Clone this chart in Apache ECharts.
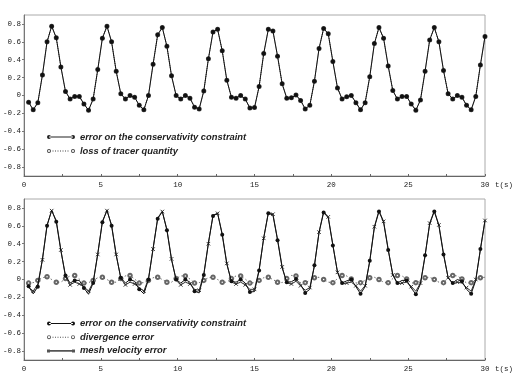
<!DOCTYPE html>
<html>
<head>
<meta charset="utf-8">
<script src="https://cdn.jsdelivr.net/npm/echarts@6/dist/echarts.min.js"></script>
<style>
  html, body { margin: 0; padding: 0; background: #fff; }
  #chart { width: 515px; height: 380px; }
</style>
</head>
<body>
<div id="chart"></div>
<script>
// sample times (s)
const timeS = [
  0.3, 0.6, 0.9, 1.2, 1.5, 1.8, 2.1, 2.4, 2.7, 3.0,
  3.3, 3.6, 3.9, 4.2, 4.5, 4.8, 5.1, 5.4, 5.7, 6.0,
  6.3, 6.6, 6.9, 7.2, 7.5, 7.8, 8.1, 8.4, 8.7, 9.0,
  9.3, 9.6, 9.9, 10.2, 10.5, 10.8, 11.1, 11.4, 11.7, 12.0,
  12.3, 12.6, 12.9, 13.2, 13.5, 13.8, 14.1, 14.4, 14.7, 15.0,
  15.3, 15.6, 15.9, 16.2, 16.5, 16.8, 17.1, 17.4, 17.7, 18.0,
  18.3, 18.6, 18.9, 19.2, 19.5, 19.8, 20.1, 20.4, 20.7, 21.0,
  21.3, 21.6, 21.9, 22.2, 22.5, 22.8, 23.1, 23.4, 23.7, 24.0,
  24.3, 24.6, 24.9, 25.2, 25.5, 25.8, 26.1, 26.4, 26.7, 27.0,
  27.3, 27.6, 27.9, 28.2, 28.5, 28.8, 29.1, 29.4, 29.7, 30.0
];

// error on the conservativity constraint
const consError = [
  -0.075, -0.16, -0.08, 0.23, 0.60, 0.775, 0.645, 0.32, 0.045, -0.04,
  -0.01, -0.01, -0.095, -0.165, -0.04, 0.29, 0.64, 0.775, 0.60, 0.27,
  0.02, -0.04, 0.0, -0.02, -0.11, -0.16, 0.0, 0.35, 0.68, 0.76,
  0.55, 0.22, 0.0, -0.04, 0.0, -0.03, -0.13, -0.15, 0.05, 0.41,
  0.71, 0.74, 0.50, 0.17, -0.02, -0.03, 0.0, -0.04, -0.14, -0.135,
  0.10, 0.47, 0.74, 0.72, 0.44, 0.13, -0.03, -0.025, 0.005, -0.055,
  -0.15, -0.11, 0.16, 0.525, 0.75, 0.69, 0.38, 0.085, -0.04, -0.015,
  0.0, -0.08, -0.16, -0.08, 0.21, 0.58, 0.76, 0.64, 0.33, 0.055,
  -0.04, -0.01, -0.01, -0.095, -0.165, -0.05, 0.27, 0.62, 0.76, 0.60,
  0.28, 0.02, -0.04, 0.0, -0.02, -0.11, -0.16, -0.01, 0.34, 0.66
];

// loss of tracer quantity (lies under the constraint error)
const tracerLoss = [
  -0.075, -0.16, -0.08, 0.23, 0.60, 0.775, 0.645, 0.32, 0.045, -0.04,
  -0.01, -0.01, -0.095, -0.165, -0.04, 0.29, 0.64, 0.775, 0.60, 0.27,
  0.02, -0.04, 0.0, -0.02, -0.11, -0.16, 0.0, 0.35, 0.68, 0.76,
  0.55, 0.22, 0.0, -0.04, 0.0, -0.03, -0.13, -0.15, 0.05, 0.41,
  0.71, 0.74, 0.50, 0.17, -0.02, -0.03, 0.0, -0.04, -0.14, -0.135,
  0.10, 0.47, 0.74, 0.72, 0.44, 0.13, -0.03, -0.025, 0.005, -0.055,
  -0.15, -0.11, 0.16, 0.525, 0.75, 0.69, 0.38, 0.085, -0.04, -0.015,
  0.0, -0.08, -0.16, -0.08, 0.21, 0.58, 0.76, 0.64, 0.33, 0.055,
  -0.04, -0.01, -0.01, -0.095, -0.165, -0.05, 0.27, 0.62, 0.76, 0.60,
  0.28, 0.02, -0.04, 0.0, -0.02, -0.11, -0.16, -0.01, 0.34, 0.66
];

// divergence error
const divError = [
  -0.04, -0.035, -0.01, 0.02, 0.03, 0.0, -0.03, -0.03, 0.01, 0.04,
  0.045, 0.005, -0.04, -0.035, -0.01, 0.02, 0.025, 0.0, -0.03, -0.03,
  0.01, 0.04, 0.045, 0.005, -0.04, -0.035, -0.01, 0.02, 0.025, 0.0,
  -0.03, -0.03, 0.01, 0.04, 0.04, 0.005, -0.04, -0.035, -0.01, 0.02,
  0.025, 0.0, -0.03, -0.03, 0.01, 0.04, 0.04, 0.005, -0.04, -0.035,
  -0.01, 0.02, 0.025, 0.0, -0.03, -0.035, 0.01, 0.045, 0.04, -0.04,
  -0.035, -0.01, 0.02, 0.025, 0.0, -0.03, -0.035, 0.01, 0.045, 0.04,
  0.005, -0.04, -0.035, -0.01, 0.02, 0.025, 0.0, -0.03, -0.035, 0.01,
  0.045, 0.04, 0.005, -0.04, -0.035, -0.01, 0.02, 0.025, 0.0, -0.03,
  -0.035, 0.01, 0.045, 0.04, 0.005, -0.04, -0.035, -0.01, 0.02, 0.025
];

// mesh velocity error
const meshError = [
  -0.09, -0.13, -0.05, 0.22, 0.61, 0.77, 0.66, 0.33, 0.03, -0.06,
  -0.03, -0.05, -0.08, -0.13, -0.03, 0.28, 0.65, 0.77, 0.61, 0.28,
  0.01, -0.06, -0.03, -0.05, -0.09, -0.13, 0.01, 0.34, 0.69, 0.76,
  0.56, 0.23, -0.01, -0.06, -0.03, -0.05, -0.11, -0.12, 0.06, 0.40,
  0.72, 0.74, 0.51, 0.18, -0.03, -0.05, -0.03, -0.06, -0.11, -0.11,
  0.11, 0.46, 0.75, 0.73, 0.45, 0.14, -0.04, -0.05, -0.02, -0.07,
  -0.12, -0.09, 0.15, 0.53, 0.76, 0.70, 0.39, 0.08, -0.05, -0.04,
  -0.03, -0.07, -0.13, -0.07, 0.20, 0.59, 0.77, 0.65, 0.34, 0.05,
  -0.05, -0.04, -0.03, -0.08, -0.13, -0.04, 0.26, 0.63, 0.77, 0.61,
  0.29, 0.02, -0.05, -0.03, -0.04, -0.09, -0.13, 0.0, 0.33, 0.66
];

const yTicks = [-0.8, -0.6, -0.4, -0.2, 0, 0.2, 0.4, 0.6, 0.8];
const xTicks = [0, 5, 10, 15, 20, 25, 30];

const NAME_CONS = 'error on the conservativity constraint';
const NAME_LOSS = 'loss of tracer quantity';
const NAME_DIV = 'divergence error';
const NAME_MESH = 'mesh velocity error';

const monoFont = 'Liberation Mono';
const legendFont = 'Liberation Sans';

const iconDots = 'path://M0,2a2,2 0 1,0 4,0a2,2 0 1,0 -4,0zM24,2a2,2 0 1,0 4,0a2,2 0 1,0 -4,0zM2,1.5h24v1h-24z';
const iconRings = 'path://M0,2a2,2 0 1,0 4,0a2,2 0 1,0 -4,0zM0.9,2a1.1,1.1 0 1,1 2.2,0a1.1,1.1 0 1,1 -2.2,0z' +
  'M24,2a2,2 0 1,0 4,0a2,2 0 1,0 -4,0zM24.9,2a1.1,1.1 0 1,1 2.2,0a1.1,1.1 0 1,1 -2.2,0z' +
  'M5.5,1.5h1v1h-1zM8,1.5h1v1h-1zM10.5,1.5h1v1h-1zM13,1.5h1v1h-1zM15.5,1.5h1v1h-1zM18,1.5h1v1h-1zM20.5,1.5h1v1h-1z';
const iconSquares = 'path://M0,0.5h3v3h-3zM25,0.5h3v3h-3zM3,1.2h22v1.6h-22z';
const iconCross = 'path://M0,0L4,4M4,0L0,4';

function pairs(values) {
  return timeS.map((t, i) => [t, values[i]]);
}

function makeXAxis(gridIndex) {
  return {
    type: 'value',
    gridIndex,
    min: 0,
    max: 30,
    interval: 5,
    name: 't(s)',
    nameLocation: 'end',
    nameGap: 10,
    nameTextStyle: {
      fontFamily: monoFont,
      fontSize: 7.5,
      color: '#222',
      verticalAlign: 'top',
      padding: [5, 0, 0, 0]
    },
    axisLine: { onZero: false, lineStyle: { color: '#666', width: 1 } },
    axisTick: { show: true, inside: true, length: 2, lineStyle: { color: '#666' } },
    minorTick: { show: true, splitNumber: 2, length: 2, lineStyle: { color: '#666' } },
    axisLabel: {
      fontFamily: monoFont,
      fontSize: 7.5,
      color: '#222',
      margin: 5,
      formatter: v => (xTicks.indexOf(v) >= 0 ? String(v) : '')
    },
    splitLine: { show: false }
  };
}

function makeYAxis(gridIndex) {
  return {
    type: 'value',
    gridIndex,
    min: -0.9,
    max: 0.9,
    axisLine: { show: true, onZero: false, lineStyle: { color: '#777', width: 1 } },
    axisTick: {
      show: true,
      length: 2,
      customValues: yTicks,
      lineStyle: { color: '#777' }
    },
    axisLabel: {
      customValues: yTicks,
      fontFamily: monoFont,
      fontSize: 7.5,
      color: '#222',
      margin: 3,
      formatter: v => (Math.abs(v) < 1e-9 ? '0' : v.toFixed(1))
    },
    splitLine: { show: false }
  };
}

const legendText = {
  fontFamily: legendFont,
  fontSize: 9.4,
  fontStyle: 'italic',
  fontWeight: 'bold',
  color: '#222',
  lineHeight: 12
};

const option = {
  animation: false,
  backgroundColor: '#fff',
  grid: [
    { left: 23, right: 30, top: 15, height: 161, show: true, borderColor: '#aaa', borderWidth: 1 },
    { left: 23, right: 30, top: 199, height: 161, show: true, borderColor: '#aaa', borderWidth: 1 }
  ],
  xAxis: [makeXAxis(0), makeXAxis(1)],
  yAxis: [makeYAxis(0), makeYAxis(1)],
  legend: [
    {
      orient: 'vertical',
      left: 47,
      top: 131,
      padding: 0,
      itemWidth: 28,
      itemHeight: 5,
      itemGap: 2,
      selectedMode: false,
      textStyle: legendText,
      data: [
        { name: NAME_CONS, icon: iconDots, itemStyle: { color: '#222', borderWidth: 0 } },
        { name: NAME_LOSS, icon: iconRings, itemStyle: { color: '#444', borderWidth: 0 } }
      ]
    },
    {
      orient: 'vertical',
      left: 47,
      top: 317.5,
      padding: 0,
      itemWidth: 28,
      itemHeight: 5,
      itemGap: 1.7,
      selectedMode: false,
      textStyle: legendText,
      data: [
        { name: NAME_CONS, icon: iconDots, itemStyle: { color: '#111', borderWidth: 0 } },
        { name: NAME_DIV, icon: iconRings, itemStyle: { color: '#555', borderWidth: 0 } },
        { name: NAME_MESH, icon: iconSquares, itemStyle: { color: '#555', borderWidth: 0 } }
      ]
    }
  ],
  series: [
    {
      name: NAME_LOSS,
      type: 'line',
      xAxisIndex: 0,
      yAxisIndex: 0,
      data: pairs(tracerLoss),
      z: 1,
      symbol: 'emptyCircle',
      symbolSize: 3,
      lineStyle: { color: '#444', width: 1, type: 'dotted' },
      itemStyle: { color: '#444', borderWidth: 1 }
    },
    {
      name: NAME_CONS,
      type: 'line',
      xAxisIndex: 0,
      yAxisIndex: 0,
      data: pairs(consError),
      z: 3,
      symbol: 'circle',
      symbolSize: 4,
      lineStyle: { color: '#111', width: 1 },
      itemStyle: { color: '#111', borderWidth: 0 }
    },
    {
      name: NAME_DIV,
      type: 'line',
      xAxisIndex: 1,
      yAxisIndex: 1,
      data: pairs(divError),
      z: 2,
      symbol: 'emptyCircle',
      symbolSize: (val, params) => (params.dataIndex % 2 === 0 ? 3.5 : 0),
      lineStyle: { color: '#666', width: 1, type: [1.5, 2.5] },
      itemStyle: { color: '#666', borderWidth: 0.8 }
    },
    {
      name: NAME_MESH,
      type: 'line',
      xAxisIndex: 1,
      yAxisIndex: 1,
      data: pairs(meshError),
      z: 3,
      symbol: iconCross,
      symbolSize: (val, params) => (params.dataIndex % 2 === 1 ? 3.5 : 0),
      lineStyle: { color: '#333', width: 1 },
      itemStyle: { color: '#333', borderColor: '#333', borderWidth: 1 }
    },
    {
      name: NAME_CONS,
      type: 'line',
      xAxisIndex: 1,
      yAxisIndex: 1,
      data: pairs(consError),
      z: 4,
      symbol: 'circle',
      symbolSize: (val, params) => (params.dataIndex % 2 === 0 ? 4 : 0),
      lineStyle: { color: '#111', width: 1 },
      itemStyle: { color: '#111', borderWidth: 0 }
    }
  ]
};

const chart = echarts.init(document.getElementById('chart'));
chart.setOption(option);
</script>
</body>
</html>
